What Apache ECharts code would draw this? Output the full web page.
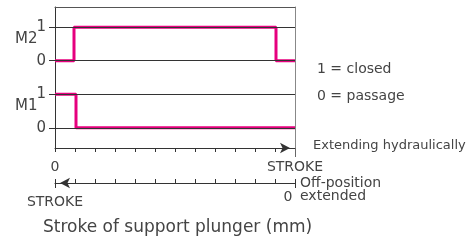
<!DOCTYPE html>
<html>
<head>
<meta charset="utf-8">
<script src="https://cdn.jsdelivr.net/npm/echarts@6/dist/echarts.min.js"></script>
<style>
html,body{margin:0;padding:0;background:#fff}
#main{width:471px;height:242px}
</style>
</head>
<body>
<div id="main"></div>
<script>
// stroke positions (12 divisions = full STROKE) and switch states
let m2Stroke = [0, 0.95, 11.05, 12]
let m2State = [0, 1, 0, 0]
let m1Stroke = [0, 1.05, 12]
let m1State = [1, 0, 0]
let levelValues = [0, 1, 2, 3]
let levelLabels = ['0', '1', '0', '1']
let strokeTickValues = [0, 12]
let extendLabels = ['0', 'STROKE']
let retractLabels = ['0', 'STROKE']

const FONT = 'DejaVu Sans'
const TXT = '#444'
const PINK = '#e6007e'

// M1 sits on lane 0..1, M2 on lane 2..3
function lane(xs, ys, off) {
    return xs.map((x, i) => [x, ys[i] + off])
}

var myChart = echarts.init(document.getElementById('main'))

var option = {
    animation: false,
    grid: { left: 55, right: 176, top: 7, bottom: 94 },
    textStyle: { fontFamily: FONT, color: TXT },
    xAxis: [
        {
            type: 'value', min: 0, max: 12, interval: 1, position: 'bottom',
            splitLine: { show: false },
            axisLine: { show: true, onZero: false, lineStyle: { color: '#333', width: 1 }, symbol: ['none', 'arrow'], symbolSize: [8, 10], symbolOffset: [0, -5] },
            axisTick: { show: true, inside: false, length: 4, lineStyle: { color: '#333' } },
            axisLabel: {
                customValues: strokeTickValues, margin: 12, fontSize: 14, color: TXT, fontFamily: FONT,
                formatter: v => extendLabels[strokeTickValues.indexOf(v)]
            }
        },
        {
            type: 'value', min: 0, max: 12, interval: 1, position: 'bottom', offset: 35, inverse: true,
            splitLine: { show: false },
            axisLine: { show: true, onZero: false, lineStyle: { color: '#333', width: 1 }, symbol: ['arrow', 'none'], symbolSize: [8, 10], symbolOffset: [5, 0] },
            axisTick: { show: true, inside: true, length: 4, lineStyle: { color: '#333' } },
            axisLabel: {
                customValues: strokeTickValues, margin: 7, fontSize: 14, color: TXT, fontFamily: FONT,
                formatter: v => v === 0 ? '{r|' + retractLabels[0] + '}' : '{l|' + retractLabels[1] + '}',
                rich: {
                    r: { fontSize: 14, fontFamily: FONT, color: TXT, padding: [0, 14, 0, 0] },
                    l: { fontSize: 14, fontFamily: FONT, color: TXT, padding: [5, 0, 0, 0] }
                }
            }
        },
        {
            // end bars under the retract axis
            type: 'value', min: 0, max: 12, position: 'bottom', offset: 35,
            splitLine: { show: false }, axisLine: { show: false, onZero: false }, axisLabel: { show: false },
            axisTick: { show: true, customValues: strokeTickValues, inside: false, length: 5, lineStyle: { color: '#333' } }
        },
        {
            // right border runs a bit below the extend axis
            type: 'value', min: 0, max: 12, position: 'bottom',
            splitLine: { show: false }, axisLine: { show: false, onZero: false }, axisLabel: { show: false },
            axisTick: { show: true, customValues: [12], inside: false, length: 9, lineStyle: { color: '#666' } }
        },
        {
            // top border of the diagram
            type: 'value', min: 0, max: 12, position: 'top',
            splitLine: { show: false }, axisTick: { show: false }, axisLabel: { show: false },
            axisLine: { show: true, onZero: false, lineStyle: { color: '#555' } }
        }
    ],
    yAxis: [
        {
            type: 'value', min: -0.6, max: 3.6,
            splitLine: { show: false },
            axisLine: { show: true, onZero: false, lineStyle: { color: '#333' } },
            axisTick: { show: true, customValues: levelValues, length: 6, lineStyle: { color: '#333' } },
            axisLabel: {
                customValues: levelValues, margin: 9, fontSize: 15, color: TXT, fontFamily: FONT,
                formatter: v => levelLabels[levelValues.indexOf(v)]
            }
        },
        {
            type: 'value', min: -0.6, max: 3.6, position: 'right',
            splitLine: { show: false }, axisTick: { show: false }, axisLabel: { show: false },
            axisLine: { show: true, onZero: false, lineStyle: { color: '#888' } }
        }
    ],
    series: [
        {
            name: 'levels', type: 'line', data: [], z: 1, silent: true,
            markLine: {
                silent: true, symbol: 'none', label: { show: false },
                lineStyle: { color: '#333', width: 1, type: 'solid' },
                data: levelValues.map(v => ({ yAxis: v }))
            }
        },
        {
            name: 'M2', type: 'line', step: 'end', showSymbol: false, z: 3,
            lineStyle: { color: PINK, width: 3 },
            data: lane(m2Stroke, m2State, 2)
        },
        {
            name: 'M1', type: 'line', step: 'end', showSymbol: false, z: 3,
            lineStyle: { color: PINK, width: 3 },
            data: lane(m1Stroke, m1State, 0)
        }
    ],
    graphic: [
        { type: 'text', left: 15, top: 32, style: { text: 'M2', font: '15px "DejaVu Sans"', fill: TXT } },
        { type: 'text', left: 15, top: 99, style: { text: 'M1', font: '15px "DejaVu Sans"', fill: TXT } },
        { type: 'text', left: 317, top: 62, style: { text: '1 = closed', font: '14px "DejaVu Sans"', fill: TXT } },
        { type: 'text', left: 317, top: 89, style: { text: '0 = passage', font: '14px "DejaVu Sans"', fill: TXT } },
        { type: 'text', left: 313, top: 139, style: { text: 'Extending hydraulically', font: '13px "DejaVu Sans"', fill: TXT } },
        { type: 'text', left: 300, top: 176, style: { text: 'Off-position', font: '14px "DejaVu Sans"', fill: TXT } },
        { type: 'text', left: 300, top: 189, style: { text: 'extended', font: '14px "DejaVu Sans"', fill: TXT } },
        { type: 'text', left: 43, top: 219, style: { text: 'Stroke of support plunger (mm)', font: '17px "DejaVu Sans"', fill: TXT } }
    ]
}

myChart.setOption(option)
</script>
</body>
</html>
